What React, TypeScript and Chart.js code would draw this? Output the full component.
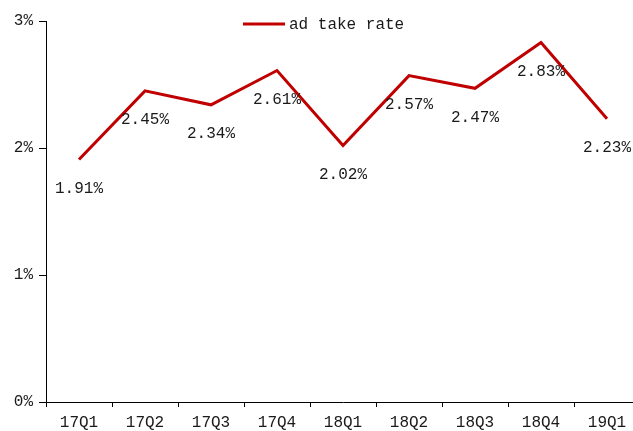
import React, { useEffect, useRef } from "react";
import { Chart, registerables } from "chart.js";

Chart.register(...registerables);

const categories = ["17Q1", "17Q2", "17Q3", "17Q4", "18Q1", "18Q2", "18Q3", "18Q4", "19Q1"];
const adTakeRate = [1.91, 2.45, 2.34, 2.61, 2.02, 2.57, 2.47, 2.83, 2.23];
const seriesName = "ad take rate";
const yTicks = [0, 1, 2, 3];

const FONT = "'Liberation Mono', 'DejaVu Sans Mono', monospace";
const RED = "#C00000";

const labelPlugin = {
  id: "valueLabels",
  afterDatasetsDraw(chart: any) {
    const ctx = chart.ctx;
    const meta = chart.getDatasetMeta(0);
    ctx.save();
    ctx.font = `16px ${FONT}`;
    ctx.fillStyle = "#1a1a1a";
    ctx.textAlign = "center";
    ctx.textBaseline = "middle";
    meta.data.forEach((pt: any, i: number) => {
      ctx.fillText(adTakeRate[i].toFixed(2) + "%", pt.x, pt.y + 29);
    });
    ctx.restore();
  },
};

const legendPlugin = {
  id: "customLegend",
  afterDraw(chart: any) {
    const ctx = chart.ctx;
    ctx.save();
    ctx.strokeStyle = RED;
    ctx.lineWidth = 3;
    ctx.beginPath();
    ctx.moveTo(243, 24);
    ctx.lineTo(285, 24);
    ctx.stroke();
    ctx.font = `16px ${FONT}`;
    ctx.fillStyle = "#1a1a1a";
    ctx.textAlign = "left";
    ctx.textBaseline = "middle";
    ctx.fillText(seriesName, 289, 25);
    ctx.restore();
  },
};

export default function App() {
  const ref = useRef<HTMLCanvasElement | null>(null);
  useEffect(() => {
    if (!ref.current) return;
    const chart = new Chart(ref.current, {
      type: "line",
      data: {
        labels: categories,
        datasets: [
          {
            label: seriesName,
            data: adTakeRate,
            borderColor: RED,
            backgroundColor: RED,
            borderWidth: 3,
            pointRadius: 0,
            tension: 0,
          },
        ],
      },
      options: {
        animation: false,
        responsive: false,
        devicePixelRatio: 1,
        layout: { padding: { top: 21, right: 5, left: 0, bottom: 0 } },
        plugins: { legend: { display: false }, tooltip: { enabled: false } },
        scales: {
          x: {
            type: "category",
            offset: true,
            grid: { offset: true, drawOnChartArea: false, drawTicks: true, tickLength: 5, color: "#000" },
            border: { color: "#000", width: 1 },
            ticks: { color: "#1a1a1a", font: { family: FONT, size: 16 }, padding: 6, maxRotation: 0, autoSkip: false },
            afterFit: (s: any) => { s.height = 29; },
          },
          y: {
            min: 0,
            max: 3,
            afterBuildTicks: (s: any) => { s.ticks = yTicks.map((v) => ({ value: v })); },
            grid: { drawOnChartArea: false, drawTicks: true, tickLength: 7, color: "#000" },
            border: { color: "#000", width: 1 },
            ticks: { color: "#1a1a1a", font: { family: FONT, size: 16 }, padding: 6, callback: (v: any) => v + "%" },
            afterFit: (s: any) => { s.width = 46; },
          },
        },
      },
      plugins: [labelPlugin, legendPlugin],
    });
    return () => chart.destroy();
  }, []);
  return (
    <div style={{ position: "fixed", left: 0, top: 0, width: 633, height: 431, overflow: "hidden", background: "#fff" }}>
      <canvas ref={ref} width={645} height={431} style={{ width: 645, height: 431, display: "block" }} />
    </div>
  );
}
